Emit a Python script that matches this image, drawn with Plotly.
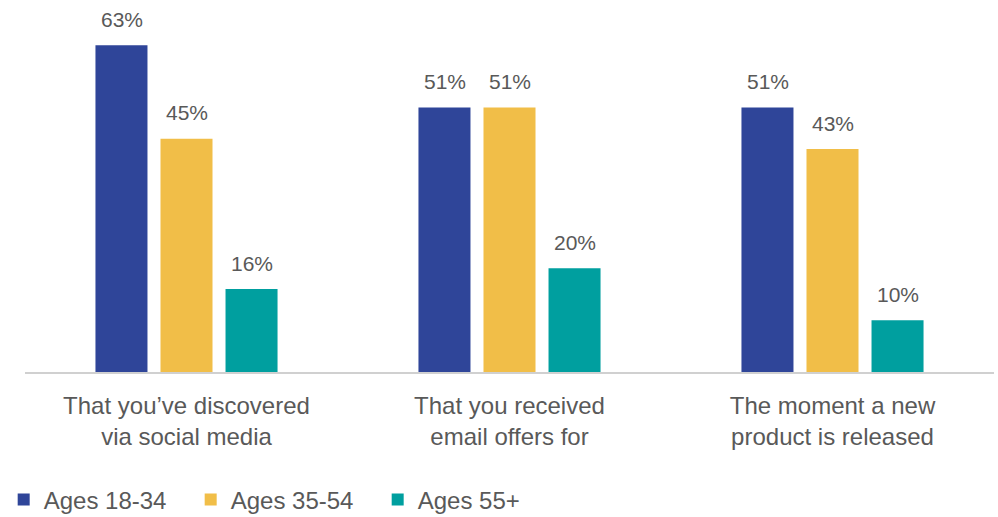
import plotly.graph_objects as go

# Survey responses by age band
categories = [
    "That you\u2019ve discovered<br>via social media",
    "That you received<br>email offers for",
    "The moment a new<br>product is released",
]
series_names = ["Ages 18-34", "Ages 35-54", "Ages 55+"]
ages_18_34 = [63, 51, 51]
ages_35_54 = [45, 51, 43]
ages_55_plus = [16, 20, 10]

colors = ["#2F4599", "#F1BE48", "#009F9F"]
text_color = "#595959"
font_family = "Arial, 'Liberation Sans', sans-serif"

series_values = [ages_18_34, ages_35_54, ages_55_plus]

fig = go.Figure()
for name, vals, col in zip(series_names, series_values, colors):
    fig.add_trace(go.Bar(
        x=categories,
        y=vals,
        name=name,
        marker=dict(color=col, line=dict(width=0)),
    ))

# Value labels above each bar, offset to follow the grouped bar positions
slot_px = 65
for i, vals in enumerate(series_values):
    for cat, v in zip(categories, vals):
        fig.add_annotation(
            x=cat, y=v, text=f"{v}%", showarrow=False,
            xshift=(i - 1) * slot_px, yshift=26, yanchor="middle",
            font=dict(family=font_family, size=21, color=text_color),
        )

fig.update_layout(
    width=998, height=517,
    margin=dict(l=25, r=4, t=9, b=145, autoexpand=False),
    paper_bgcolor="white", plot_bgcolor="white",
    barmode="group", bargap=0.396, bargroupgap=0.2,
    font=dict(family=font_family, color=text_color),
    showlegend=True,
    legend=dict(
        orientation="h", x=-0.022, xanchor="left", y=-0.352, yanchor="middle",
        font=dict(family=font_family, size=24, color=text_color),
        entrywidth=142, entrywidthmode="pixels",
        itemwidth=30, traceorder="normal",
    ),
    xaxis=dict(
        showline=True, linecolor="#D0D0D0", linewidth=1.5,
        ticks="", showgrid=False, zeroline=False,
        ticklabelstandoff=11,
        tickfont=dict(family=font_family, size=24, color=text_color),
    ),
    yaxis=dict(
        range=[0, 70], visible=False, showgrid=False, zeroline=False,
    ),
)

fig.write_html("out.html")
